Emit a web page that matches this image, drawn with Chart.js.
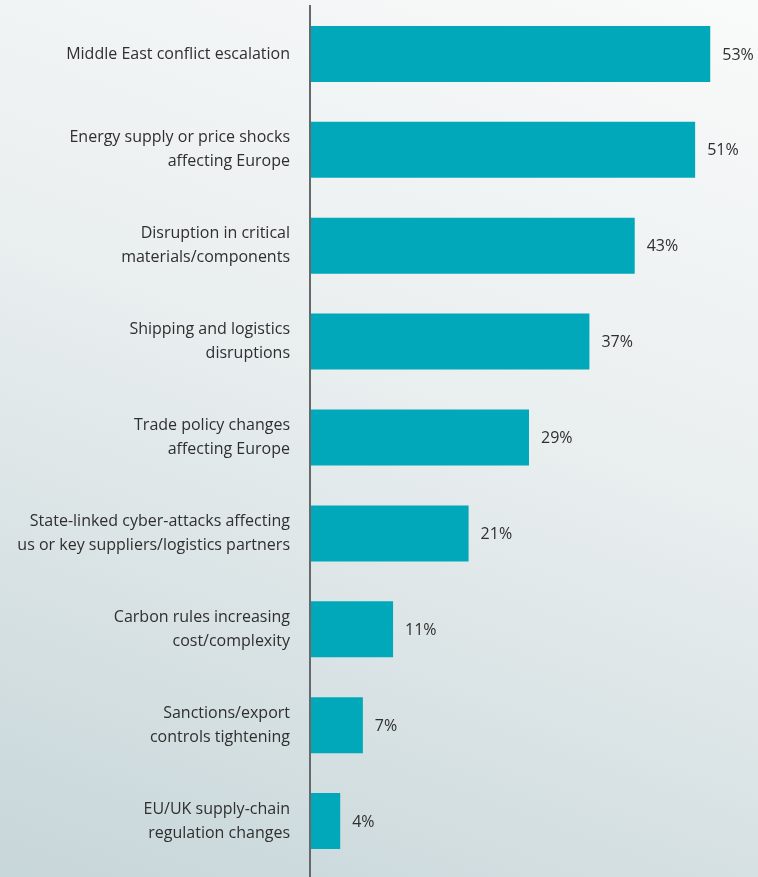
<!DOCTYPE html>
<html>
<head>
<meta charset="utf-8">
<script src="https://cdn.jsdelivr.net/npm/chart.js@4/dist/chart.umd.min.js"></script>
<style>
    html, body {
        margin: 0;
        padding: 0;
        width: 758px;
        height: 877px;
        overflow: hidden;
    }
    body {
        background: linear-gradient(200deg, #f9fafa 0%, #e9eeef 45%, #c7d6d9 100%);
    }
    #wrap {
        position: relative;
        width: 758px;
        height: 877px;
    }
</style>
</head>
<body>
<div id="wrap"><canvas id="risk-chart"></canvas></div>
<script>
var categories = [
    ["Middle East conflict escalation"],
    ["Energy supply or price shocks", "affecting Europe"],
    ["Disruption in critical", "materials/components"],
    ["Shipping and logistics", "disruptions"],
    ["Trade policy changes", "affecting Europe"],
    ["State-linked cyber-attacks affecting", "us or key suppliers/logistics partners"],
    ["Carbon rules increasing", "cost/complexity"],
    ["Sanctions/export", "controls tightening"],
    ["EU/UK supply-chain", "regulation changes"]
];
var shares = [53, 51, 43, 37, 29, 21, 11, 7, 4];

var barColor = "#00a8ba";
var textColor = "#2f2f2f";
var fontFamily = "'Open Sans', sans-serif";

// value label after each bar
var valueLabels = {
    id: "valueLabels",
    afterDatasetsDraw: function (chart) {
        var ctx = chart.ctx;
        var meta = chart.getDatasetMeta(0);
        ctx.save();
        ctx.font = "16px " + fontFamily;
        ctx.fillStyle = textColor;
        ctx.textAlign = "left";
        ctx.textBaseline = "middle";
        meta.data.forEach(function (bar, i) {
            ctx.fillText(shares[i] + "%", bar.x + 12, bar.y + 1);
        });
        ctx.restore();
    }
};

// vertical axis line, runs down to the bottom edge
var axisLine = {
    id: "axisLine",
    afterDraw: function (chart) {
        var ctx = chart.ctx;
        var x = chart.chartArea.left;
        ctx.save();
        ctx.strokeStyle = "#66696b";
        ctx.lineWidth = 2;
        ctx.beginPath();
        ctx.moveTo(x, 5);
        ctx.lineTo(x, chart.height);
        ctx.stroke();
        ctx.restore();
    }
};

var ctx = document.getElementById("risk-chart").getContext("2d");
var riskChart = new Chart(ctx, {
    type: "bar",
    data: {
        labels: categories,
        datasets: [{
            data: shares,
            backgroundColor: barColor,
            borderWidth: 0,
            barPercentage: 0.584,
            categoryPercentage: 1.0
        }]
    },
    options: {
        indexAxis: "y",
        responsive: true,
        maintainAspectRatio: false,
        animation: false,
        layout: {
            padding: {top: 6, bottom: 8, left: 0, right: 10}
        },
        plugins: {
            legend: {display: false},
            tooltip: {enabled: false}
        },
        scales: {
            x: {
                display: false,
                min: 0,
                max: 58
            },
            y: {
                grid: {display: false, drawTicks: false, tickLength: 0},
                border: {display: false},
                ticks: {
                    color: textColor,
                    padding: 20,
                    font: {family: fontFamily, size: 16, lineHeight: 1.5}
                },
                afterFit: function (scale) {
                    scale.width = 310;
                    scale.paddingTop = 0;
                    scale.paddingBottom = 0;
                }
            }
        }
    },
    plugins: [valueLabels, axisLine]
});
</script>
</body>
</html>
